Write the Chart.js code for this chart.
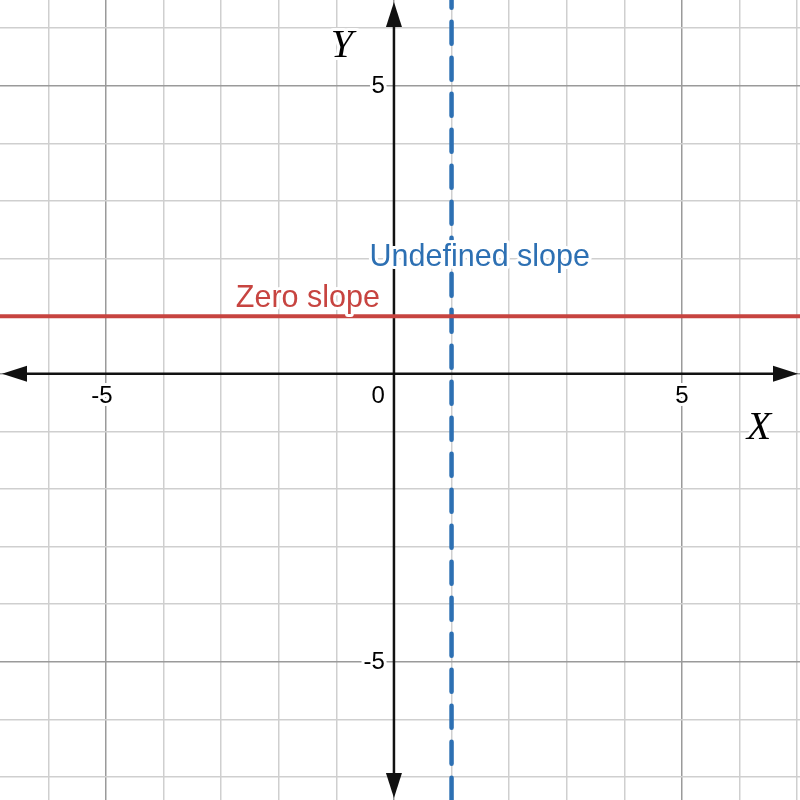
<!DOCTYPE html>
<html>
<head>
<meta charset="utf-8">
<script src="https://cdn.jsdelivr.net/npm/chart.js@4"></script>
<style>
  html, body { margin: 0; padding: 0; background: #fff; }
  #wrap { width: 800px; height: 800px; }
</style>
</head>
<body>
<div id="wrap"><canvas id="slopeChart"></canvas></div>
<script>
// visible window of the graph
const xRange = [-6.84, 7.05];
const yRange = [-7.40, 6.49];

// the two lines
const zeroSlopeX = [-8, 8];
const zeroSlopeY = [1, 1];
const undefinedSlopeX = [1, 1];
const undefinedSlopeY = [7, -8];

// axis numbers
const xTickValues = [-5, 5];
const yTickValues = [5, -5];
const originLabel = '0';

const zeroLabel = 'Zero slope';
const undefinedLabel = 'Undefined slope';

function toPoints(xs, ys) {
    return xs.map((x, i) => ({ x: x, y: ys[i] }));
}

function haloText(ctx, text, x, y) {
    ctx.strokeText(text, x, y);
    ctx.fillText(text, x, y);
}

// axes with arrow heads, drawn through the scales
const axesPlugin = {
    id: 'axes',
    beforeDatasetsDraw(chart) {
        const ctx = chart.ctx;
        const xs = chart.scales.x, ys = chart.scales.y;
        const ox = xs.getPixelForValue(0), oy = ys.getPixelForValue(0);
        const left = xs.left, right = xs.right, top = ys.top, bottom = ys.bottom;
        const len = 25, half = 8;
        ctx.save();
        ctx.strokeStyle = '#111';
        ctx.fillStyle = '#111';
        ctx.lineWidth = 2.5;
        ctx.beginPath();
        ctx.moveTo(left + 10, oy); ctx.lineTo(right - 10, oy);
        ctx.moveTo(ox, top + 10); ctx.lineTo(ox, bottom - 10);
        ctx.stroke();
        const heads = [
            [[left + 2, oy], [left + 2 + len, oy - half], [left + 2 + len, oy + half]],
            [[right - 2, oy], [right - 2 - len, oy - half], [right - 2 - len, oy + half]],
            [[ox, top + 2], [ox - half, top + 2 + len], [ox + half, top + 2 + len]],
            [[ox, bottom - 2], [ox - half, bottom - 2 - len], [ox + half, bottom - 2 - len]]
        ];
        heads.forEach(h => {
            ctx.beginPath();
            ctx.moveTo(h[0][0], h[0][1]);
            ctx.lineTo(h[1][0], h[1][1]);
            ctx.lineTo(h[2][0], h[2][1]);
            ctx.closePath();
            ctx.fill();
        });
        ctx.restore();
    },
    afterDatasetsDraw(chart) {
        const ctx = chart.ctx;
        const xs = chart.scales.x, ys = chart.scales.y;
        const ox = xs.getPixelForValue(0), oy = ys.getPixelForValue(0);
        ctx.save();
        ctx.strokeStyle = '#fff';
        ctx.lineWidth = 6;
        ctx.lineJoin = 'round';
        ctx.fillStyle = '#000';
        ctx.font = '24px "Liberation Sans", Arial, sans-serif';
        ctx.textBaseline = 'alphabetic';

        // x numbers: digits centred on the grid line
        xTickValues.forEach(v => {
            const digits = String(Math.abs(v));
            const w = ctx.measureText(digits).width;
            ctx.textAlign = 'right';
            haloText(ctx, String(v), xs.getPixelForValue(v) + w / 2, oy + 29);
        });
        // y numbers, right of them sits the axis
        ctx.textBaseline = 'middle';
        yTickValues.forEach(v => {
            ctx.textAlign = 'right';
            haloText(ctx, String(v), ox - 9, ys.getPixelForValue(v) + 1);
        });
        ctx.textBaseline = 'alphabetic';
        haloText(ctx, originLabel, ox - 9, oy + 29);

        // axis names
        ctx.font = 'italic 40px "Liberation Serif", "Times New Roman", serif';
        ctx.textAlign = 'center';
        haloText(ctx, 'X', xs.right - 41, oy + 65);
        haloText(ctx, 'Y', ox - 52, 57);

        // line labels
        ctx.font = '30.5px "Liberation Sans", Arial, sans-serif';
        ctx.fillStyle = '#c74440';
        ctx.textAlign = 'right';
        haloText(ctx, zeroLabel, ox - 14, ys.getPixelForValue(zeroSlopeY[0]) - 9);
        ctx.fillStyle = '#2d70b3';
        ctx.textAlign = 'left';
        haloText(ctx, undefinedLabel, xs.getPixelForValue(undefinedSlopeX[0]) - 82, ys.getPixelForValue(zeroSlopeY[0]) - 50);
        ctx.restore();
    }
};

function gridColor(c) {
    return c.tick && Math.abs(c.tick.value) % 5 === 0 ? '#9a9a9a' : '#cfcfcf';
}

new Chart(document.getElementById('slopeChart').getContext('2d'), {
    type: 'scatter',
    data: {
        datasets: [{
            label: zeroLabel,
            data: toPoints(zeroSlopeX, zeroSlopeY),
            showLine: true,
            borderColor: '#c74440',
            borderWidth: 4,
            pointRadius: 0,
            fill: false
        }, {
            label: undefinedLabel,
            data: toPoints(undefinedSlopeX, undefinedSlopeY),
            showLine: true,
            borderColor: '#2d70b3',
            borderWidth: 4.5,
            borderDash: [22, 14],
            borderDashOffset: 21,
            borderCapStyle: 'round',
            pointRadius: 0,
            fill: false
        }]
    },
    options: {
        responsive: true,
        maintainAspectRatio: false,
        animation: false,
        layout: { padding: 0 },
        plugins: {
            legend: { display: false },
            tooltip: { enabled: false }
        },
        scales: {
            x: {
                type: 'linear',
                min: xRange[0],
                max: xRange[1],
                border: { display: false },
                grid: { color: gridColor, lineWidth: 1.5, drawTicks: false, tickLength: 0 },
                ticks: { display: false, stepSize: 1, includeBounds: false }
            },
            y: {
                type: 'linear',
                min: yRange[0],
                max: yRange[1],
                border: { display: false },
                grid: { color: gridColor, lineWidth: 1.5, drawTicks: false, tickLength: 0 },
                ticks: { display: false, stepSize: 1, includeBounds: false }
            }
        }
    },
    plugins: [axesPlugin]
});
</script>
</body>
</html>
